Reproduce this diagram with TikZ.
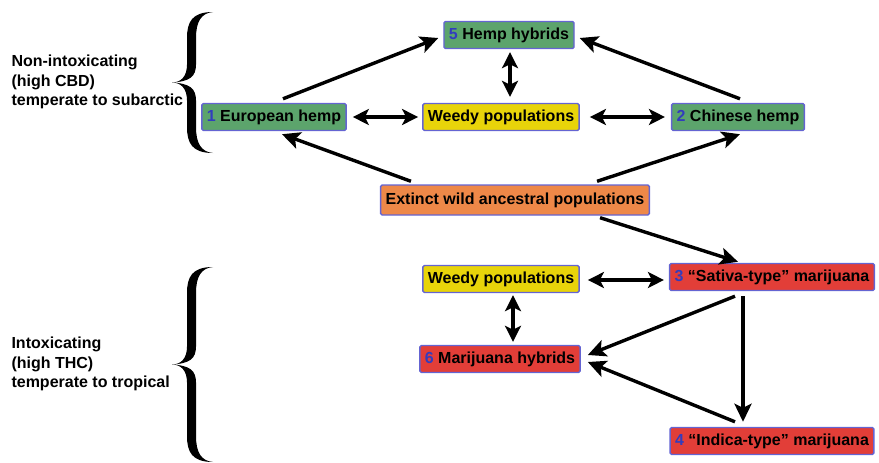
\documentclass[tikz,border=0pt]{standalone}
\usepackage{fontspec}
\setmainfont{Liberation Sans}
\usetikzlibrary{arrows.meta,calc}
\definecolor{hempgreen}{RGB}{92,164,108}
\definecolor{weedyellow}{RGB}{232,212,10}
\definecolor{ancorange}{RGB}{238,136,72}
\definecolor{marired}{RGB}{226,62,56}
\definecolor{boxblue}{RGB}{100,100,210}
\definecolor{numblue}{RGB}{50,60,190}
\newcommand{\num}[1]{\textcolor{numblue}{#1}}
\newcommand{\curlybrace}[3]{%
  \pgfmathsetmacro\bmid{(#2+#3)/2}
  \fill ({#1+41},#2) .. controls ({#1+20},#2) and ({#1+15},{#2+10}) .. ({#1+15},{#2+26})
    -- ({#1+15},{\bmid-18}) .. controls ({#1+15},{\bmid-6}) and ({#1+9},\bmid) .. (#1,\bmid)
    .. controls ({#1+9},\bmid) and ({#1+15},{\bmid+6}) .. ({#1+15},{\bmid+18})
    -- ({#1+15},{#3-26}) .. controls ({#1+15},{#3-10}) and ({#1+20},#3) .. ({#1+41},#3)
    .. controls ({#1+29},{#3-1}) and ({#1+24},{#3-10}) .. ({#1+24},{#3-26})
    -- ({#1+24},{\bmid+18}) .. controls ({#1+24},{\bmid+6}) and ({#1+18},{\bmid+1}) .. (#1,\bmid)
    .. controls ({#1+18},{\bmid-1}) and ({#1+24},{\bmid-6}) .. ({#1+24},{\bmid-18})
    -- ({#1+24},{#2+26}) .. controls ({#1+24},{#2+10}) and ({#1+29},{#2+1}) .. ({#1+41},#2) -- cycle;
}
\begin{document}
\begin{tikzpicture}[x=1pt,y=-1pt,
    font=\fontsize{16}{19.5}\selectfont\bfseries,
    box/.style={draw=boxblue,line width=1.4pt,rounded corners=1.5pt,minimum height=27pt,inner xsep=5pt,inner ysep=0pt},
    arr/.style={line width=3.4pt,-{Stealth[length=18pt,width=17pt,inset=4pt]}},
    dbl/.style={line width=3.4pt,{Stealth[length=16pt,width=16pt,inset=4pt]}-{Stealth[length=16pt,width=16pt,inset=4pt]}}]
  \useasboundingbox (0,0) rectangle (879,463);
  \node[box,fill=hempgreen] (hh) at (509,35) {\num{5} Hemp hybrids};
  \node[box,fill=hempgreen] (eu) at (274,117) {\num{1} European hemp};
  \node[box,fill=weedyellow] (wt) at (501,117) {Weedy populations};
  \node[box,fill=hempgreen] (cn) at (738,117) {\num{2} Chinese hemp};
  \node[box,fill=ancorange,minimum height=30pt] (ex) at (515,200) {Extinct wild ancestral populations};
  \node[box,fill=marired] (sa) at (772,277) {\num{3} “Sativa-type” marijuana};
  \node[box,fill=weedyellow] (wb) at (501,279) {Weedy populations};
  \node[box,fill=marired] (mh) at (500,359) {\num{6} Marijuana hybrids};
  \node[box,fill=marired] (in) at (772,441) {\num{4} “Indica-type” marijuana};
  \node[align=left,anchor=west] (nonintox) at (8,82) {Non-intoxicating\\(high CBD)\\temperate to subarctic};
  \node[align=left,anchor=west] (intox) at (8,364) {Intoxicating\\(high THC)\\temperate to tropical};
  \curlybrace{172}{12}{153}
  \curlybrace{172}{267}{462}
  \draw[arr] ($(eu.north)+(9,-4)$) -- ($(hh.west)+(-5,3)$);
  \draw[arr] ($(cn.north)+(2,-4)$) -- ($(hh.east)+(5,3)$);
  \draw[dbl] ($(hh.south)+(1,3)$) -- ($(wt.north -| hh.south)+(1,-6)$);
  \draw[dbl,shorten <=6pt,shorten >=4pt] (eu) -- (wt);
  \draw[dbl,shorten <=10pt,shorten >=6pt] (wt) -- (cn);
  \draw[arr] ($(ex.north west)+(31,-3)$) -- ($(eu.south)+(8,3)$);
  \draw[arr] ($(ex.north east)+(-53,-3)$) -- ($(cn.south)+(2,3)$);
  \draw[arr] ($(ex.south east)+(-50,2)$) -- ($(sa.north)+(-34,-1)$);
  \draw[dbl] ($(wb.east)+(8,1)$) -- ($(sa.west)+(-5,3)$);
  \draw[dbl] ($(wb.south)+(12,2)$) -- ($(mh.north)+(13,-3)$);
  \draw[arr] ($(sa.south)+(-37,5)$) -- ($(mh.east)+(7,-4)$);
  \draw[arr] ($(sa.south)+(-29,5)$) -- ($(in.north)+(-29,-5)$);
  \draw[arr] ($(in.north)+(-37,-5)$) -- ($(mh.east)+(7,3)$);
\end{tikzpicture}
\end{document}
